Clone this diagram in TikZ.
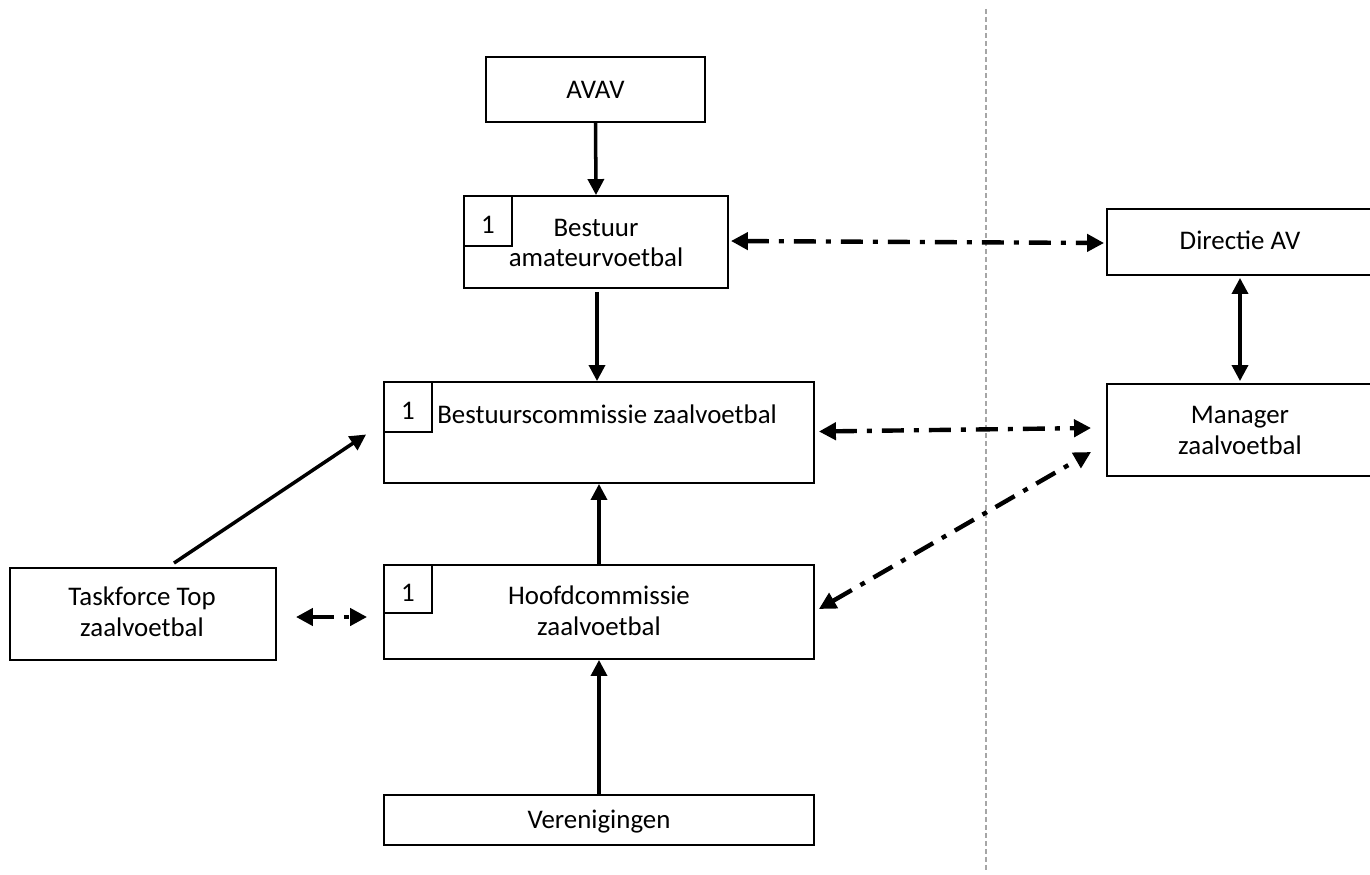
\documentclass[tikz,border=0pt]{standalone}
\usepackage{fontspec}
\setmainfont{Carlito}
\usetikzlibrary{arrows.meta,calc}
\begin{document}
\begin{tikzpicture}[x=0.02cm,y=-0.02cm,
  box/.style={draw=black,line width=1.1pt,inner sep=0pt,fill=white},
  numbox/.style={draw=black,line width=1.1pt,inner sep=0pt,minimum width=0.96cm,minimum height=1.0cm,anchor=north west},
  lbl/.style={font=\fontsize{15.3}{17.6}\selectfont,align=center,inner sep=0pt},
  solidarr/.style={line width=2pt,-{Triangle[length=0.32cm,width=0.32cm]}},
  dd/.style={line width=2.5pt,dash pattern=on 0.44cm off 0.2cm on 0.1cm off 0.2cm,
    {Triangle[length=0.34cm,width=0.34cm]}-{Triangle[length=0.34cm,width=0.34cm]}},
]
\useasboundingbox (0,0) rectangle (1370,875);
% divider
\draw[gray!70,line width=0.7pt,dash pattern=on 0.1cm off 0.06cm] (986,9) coordinate (dtop) -- (986,870) coordinate (dbot);
% boxes
\node[box,minimum width=4.38cm,minimum height=1.3cm] (avav) at (595.5,89.5) {};
\node[lbl] (tavav) at (avav.center) {AVAV};
\node[box,minimum width=5.28cm,minimum height=1.84cm] (ba) at (596,242) {};
\node[lbl] (tba) at (596,243) {Bestuur\\amateurvoetbal};
\node[numbox] (nba) at (ba.north west) {};
\node[lbl] (tnba) at ($(nba.center)+(0,4)$) {1};
\node[box,minimum width=8.6cm,minimum height=2.02cm] (bsc) at (599,432.5) {};
\node[lbl,anchor=west] (tbsc) at (437,414) {Bestuurscommissie zaalvoetbal};
\node[numbox] (nbsc) at (bsc.north west) {};
\node[lbl] (tnbsc) at ($(nbsc.center)+(0,4)$) {1};
\node[box,minimum width=8.6cm,minimum height=1.88cm] (hc) at (599,612) {};
\node[lbl] (thc) at (599,611) {Hoofdcommissie\\zaalvoetbal};
\node[numbox,minimum height=0.96cm] (nhc) at (hc.north west) {};
\node[lbl] (tnhc) at ($(nhc.center)+(0,4)$) {1};
\node[box,minimum width=8.6cm,minimum height=1.0cm] (ver) at (599,820) {};
\node[lbl] (tver) at (599,822) {Verenigingen};
\node[box,minimum width=5.32cm,minimum height=1.84cm] (tf) at (143,614) {};
\node[lbl] (ttf) at (142,611.5) {Taskforce Top\\zaalvoetbal};
\node[box,minimum width=5.5cm,minimum height=1.32cm] (dir) at (1244.5,242) {};
\node[lbl] (tdir) at (1240,240) {Directie AV};
\node[box,minimum width=5.5cm,minimum height=1.84cm] (mgr) at (1244.5,430) {};
\node[lbl] (tmgr) at (1240,430.5) {Manager\\zaalvoetbal};
% solid arrows
\draw[solidarr] (avav.south) -- (ba.north);
\draw[solidarr] ($(ba.south)+(1,3)$) -- (bsc.north -| 597,0);
\draw[solidarr] (hc.north) -- (bsc.south);
\draw[solidarr] (ver.north) -- (hc.south);
\draw[solidarr] ($(tf.north)+(31,-4)$) -- ($(bsc.west)+(-17,2)$);
\draw[line width=2pt,{Triangle[length=0.32cm,width=0.32cm]}-{Triangle[length=0.32cm,width=0.32cm]}] ($(dir.south)+(-4.5,2)$) -- ($(mgr.north)+(-4.5,-2)$);
% dash-dot arrows
\draw[dd] ($(tf.east)+(19,3)$) -- ($(hc.west)+(-16,5)$);
\draw[dd] ($(ba.east)+(2,-1)$) -- ($(dir.west)+(-2,1)$);
\draw[dd] ($(bsc.east)+(4,-1)$) -- ($(mgr.west)+(-15,-2)$);
\draw[dd] ($(hc.east)+(4,-3)$) -- ($(mgr.west)+(-15,22)$);
\end{tikzpicture}
\end{document}
